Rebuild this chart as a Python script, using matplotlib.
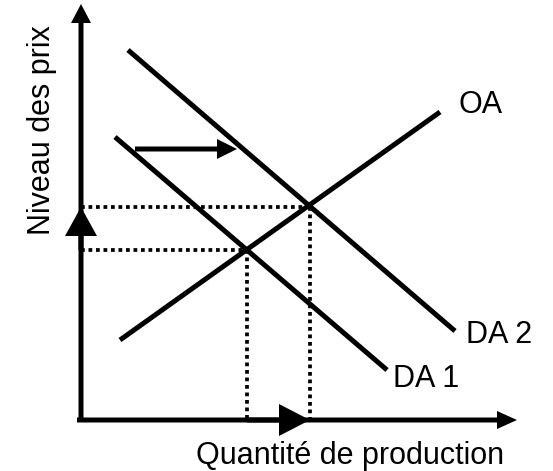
import matplotlib
matplotlib.use("Agg")
import matplotlib.pyplot as plt

plt.rcParams['font.family'] = ['Liberation Sans', 'DejaVu Sans']

# curves, in picture units (x right, y down)
oa_x = [120, 440]
oa_y = [340, 112]
da1_x = [115, 387]
da1_y = [137, 370]
da2_x = [128, 455]
da2_y = [50, 331]

# equilibria
eq_x = [247, 310]
eq_y = [250, 207]

origin = (81, 420)
labels = {"OA": (458, 113), "DA 2": (466, 343), "DA 1": (393, 387)}

fig = plt.figure(figsize=(5.53, 4.71), dpi=100)
ax = fig.add_axes([0, 0, 1, 1])
ax.set_xlim(0, 553)
ax.set_ylim(471, 0)
ax.axis('off')

lw = 3.6
for xs, ys in [(oa_x, oa_y), (da1_x, da1_y), (da2_x, da2_y)]:
    ax.plot(xs, ys, color='black', lw=lw, solid_capstyle='butt')

# dotted guides
dot = (0, (1.0, 1.0))
for x, y in zip(eq_x, eq_y):
    ax.plot([origin[0], x], [y, y], color='black', lw=2.7, ls=dot, dash_capstyle='butt')
    ax.plot([x, x], [y, origin[1]], color='black', lw=2.7, ls=dot, dash_capstyle='butt')

# axes
ax.arrow(origin[0], origin[1] + 2, 0, 4 - origin[1] - 2, width=5, head_width=20,
         head_length=19, length_includes_head=True, color='black', lw=0)
ax.arrow(origin[0] - 4, origin[1], 517 - origin[0] + 4, 0, width=5, head_width=18,
         head_length=20, length_includes_head=True, color='black', lw=0)

# shifts
ax.arrow(origin[0], eq_y[0], 0, eq_y[1] - eq_y[0], width=5, head_width=32,
         head_length=29, length_includes_head=True, color='black', lw=0)
ax.arrow(eq_x[0], origin[1], eq_x[1] - eq_x[0], 0, width=5, head_width=32,
         head_length=31, length_includes_head=True, color='black', lw=0)
ax.arrow(135, 149, 102, 0, width=5, head_width=20, head_length=20,
         length_includes_head=True, color='black', lw=0)

for txt, (x, y) in labels.items():
    ax.text(x, y, txt, fontsize=22, ha='left', va='baseline')

ax.text(350, 464, "Quantité de production", fontsize=22, ha='center', va='baseline')
ax.text(50, 130, "Niveau des prix", fontsize=22, ha='center', va='baseline',
        rotation=90, rotation_mode='anchor')

fig.savefig("out.png", dpi=100)
